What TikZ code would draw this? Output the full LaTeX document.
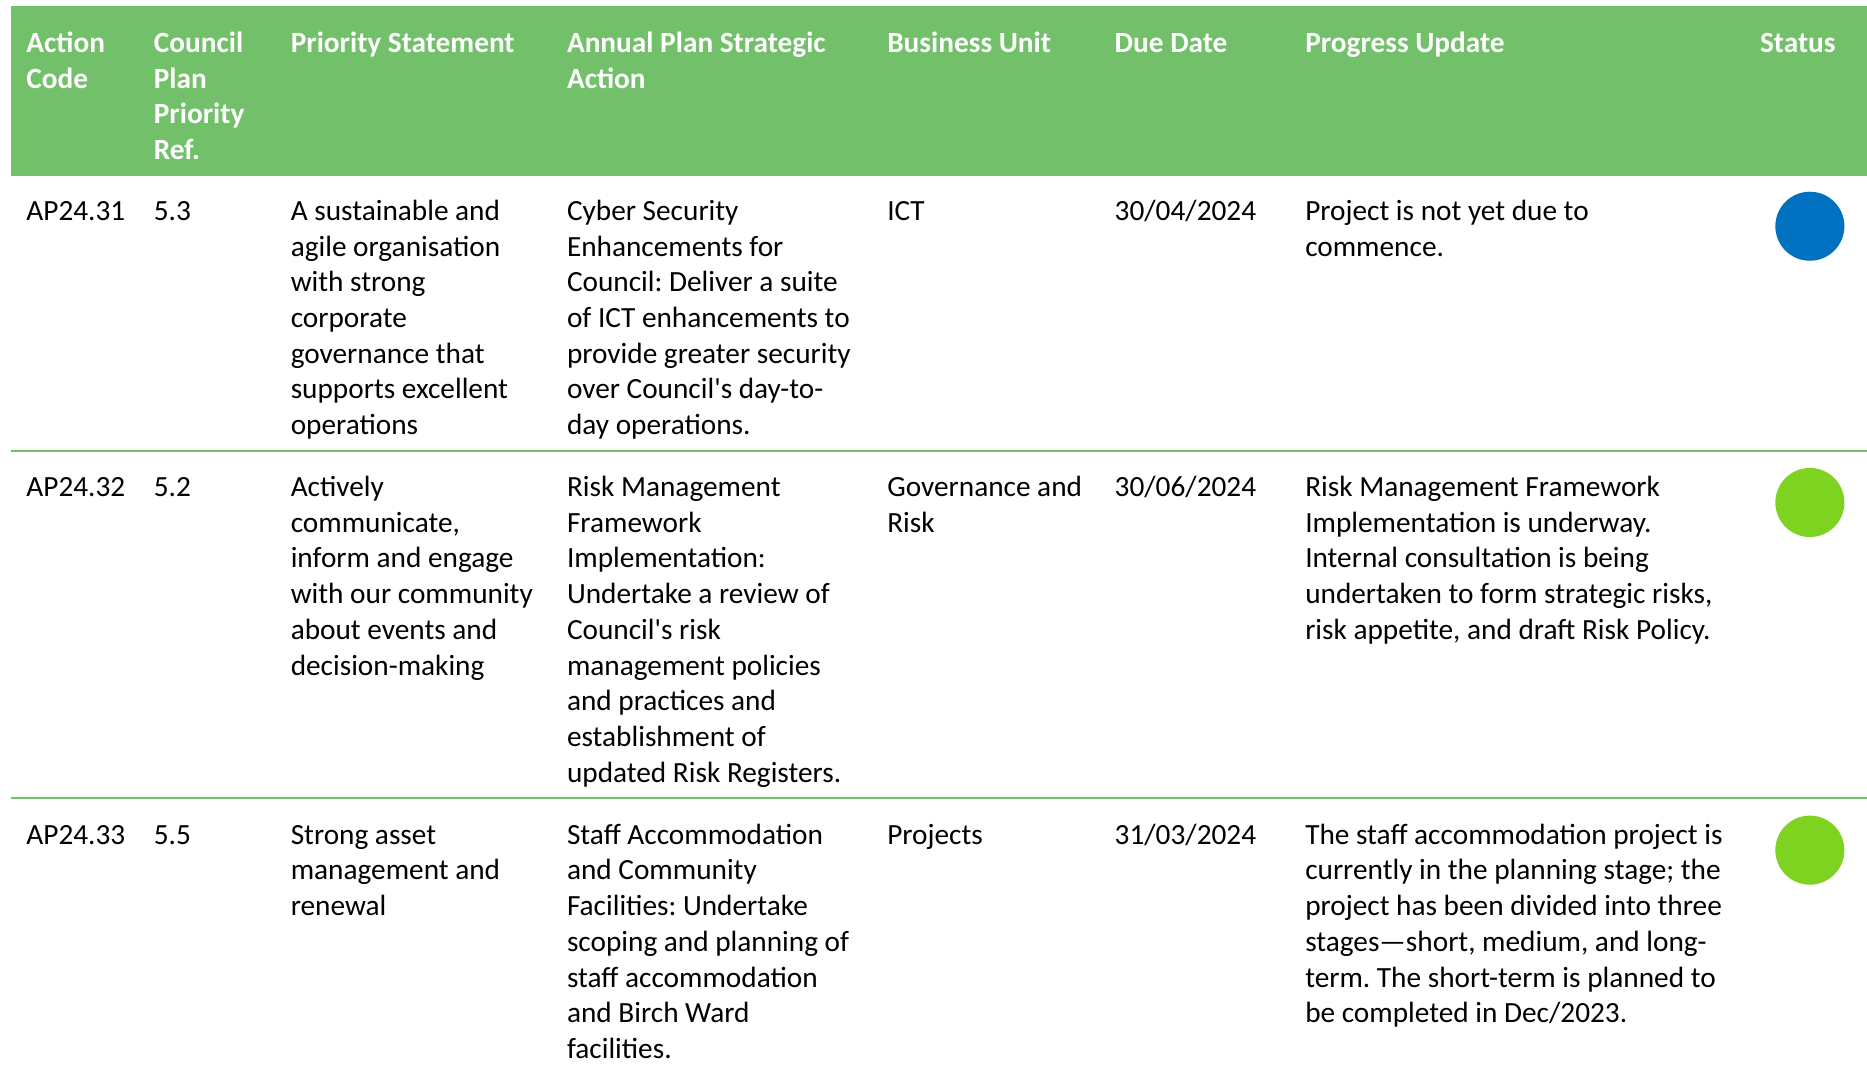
\documentclass[tikz,border=0pt]{standalone}
\usepackage{fontspec}
\setmainfont{Carlito}[Ligatures=TeXOff]
\frenchspacing
\definecolor{hdrgreen}{RGB}{114,192,106}
\definecolor{stblue}{RGB}{0,112,192}
\definecolor{stgreen}{RGB}{126,211,33}
\newcommand{\cellfont}{\fontsize{24.6}{30}\selectfont}
\begin{document}
\begin{tikzpicture}[x=1pt,y=-1pt,
  hdr/.style={anchor=base west,inner sep=0pt,text=white,font=\cellfont\bfseries},
  cell/.style={anchor=base west,inner sep=0pt,font=\cellfont},
  sep/.style={draw=hdrgreen,line width=2pt},
  dot/.style={circle,minimum size=58pt,inner sep=0pt}]
\useasboundingbox (0,0) rectangle (1568,900);
\fill[hdrgreen] (9,5) rectangle (1568,148);
% header
\node[hdr] (h1) at (22,44) {\parbox[t]{100pt}{\raggedright Action\\Code}};
\node[hdr] (h2) at (129,44) {\parbox[t]{100pt}{\raggedright Council\\Plan\\Priority\\Ref.}};
\node[hdr] (h3) at (244,44) {\parbox[t]{220pt}{\raggedright Priority Statement}};
\node[hdr] (h4) at (476,44) {\parbox[t]{260pt}{\raggedright Annual Plan Strategic\\Action}};
\node[hdr] (h5) at (745,44) {\parbox[t]{180pt}{\raggedright Business Unit}};
\node[hdr] (h6) at (936,44) {\parbox[t]{150pt}{\raggedright Due Date}};
\node[hdr] (h7) at (1096,44) {\parbox[t]{350pt}{\raggedright Progress Update}};
\node[hdr] (h8) at (1478,44) {\parbox[t]{80pt}{\raggedright Status}};
% row 1
\node[cell] (r1a) at (22,185) {AP24.31};
\node[cell] (r1b) at (129,185) {5.3};
\node[cell] (r1c) at (244,185) {\parbox[t]{230pt}{\raggedright A sustainable and\\agile organisation\\with strong\\corporate\\governance that\\supports excellent\\operations}};
\node[cell] (r1d) at (476,185) {\parbox[t]{260pt}{\raggedright Cyber Security\\Enhancements for\\Council: Deliver a suite\\of ICT enhancements to\\provide greater security\\over Council's day-to-\\day operations.}};
\node[cell] (r1e) at (745,185) {ICT};
\node[cell] (r1f) at (936,185) {30/04/2024};
\node[cell] (r1g) at (1096,185) {\parbox[t]{380pt}{\raggedright Project is not yet due to\\commence.}};
\node[dot,fill=stblue] (s1) at (1520,190) {};
\draw[sep] (9,379) -- (1568,379);
% row 2
\node[cell] (r2a) at (22,417) {AP24.32};
\node[cell] (r2b) at (129,417) {5.2};
\node[cell] (r2c) at (244,417) {\parbox[t]{230pt}{\raggedright Actively\\communicate,\\inform and engage\\with our community\\about events and\\decision-making}};
\node[cell] (r2d) at (476,417) {\parbox[t]{260pt}{\raggedright Risk Management\\Framework\\Implementation:\\Undertake a review of\\Council's risk\\management policies\\and practices and\\establishment of\\updated Risk Registers.}};
\node[cell] (r2e) at (745,417) {\parbox[t]{190pt}{\raggedright Governance and\\Risk}};
\node[cell] (r2f) at (936,417) {30/06/2024};
\node[cell] (r2g) at (1096,417) {\parbox[t]{380pt}{\raggedright Risk Management Framework\\Implementation is underway.\\Internal consultation is being\\undertaken to form strategic risks,\\risk appetite, and draft Risk Policy.}};
\node[dot,fill=stgreen] (s2) at (1520,422) {};
\draw[sep] (9,670) -- (1568,670);
% row 3
\node[cell] (r3a) at (22,709) {AP24.33};
\node[cell] (r3b) at (129,709) {5.5};
\node[cell] (r3c) at (244,709) {\parbox[t]{230pt}{\raggedright Strong asset\\management and\\renewal}};
\node[cell] (r3d) at (476,709) {\parbox[t]{260pt}{\raggedright Staff Accommodation\\and Community\\Facilities: Undertake\\scoping and planning of\\staff accommodation\\and Birch Ward\\facilities.}};
\node[cell] (r3e) at (745,709) {Projects};
\node[cell] (r3f) at (936,709) {31/03/2024};
\node[cell] (r3g) at (1096,709) {\parbox[t]{380pt}{\raggedright The staff accommodation project is\\currently in the planning stage; the\\project has been divided into three\\stages—short, medium, and long-\\term. The short-term is planned to\\be completed in Dec/2023.}};
\node[dot,fill=stgreen] (s3) at (1520,714) {};
\end{tikzpicture}
\end{document}
